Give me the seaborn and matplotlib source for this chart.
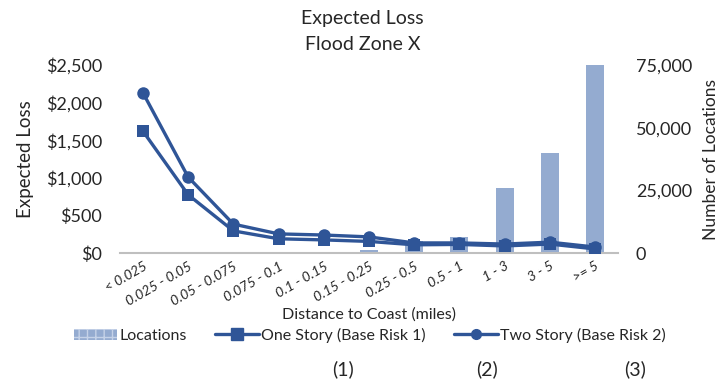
import numpy as np
import pandas as pd
import matplotlib.pyplot as plt
import seaborn as sns
from matplotlib.patches import Patch
from matplotlib.lines import Line2D
from matplotlib.ticker import FuncFormatter

# values
categories = ["< 0.025", "0.025 - 0.05", "0.05 - 0.075", "0.075 - 0.1", "0.1 - 0.15",
              "0.15 - 0.25", "0.25 - 0.5", "0.5 - 1", "1 - 3", "3 - 5", ">= 5"]
locations = [0, 0, 0, 0, 400, 1200, 5000, 6500, 26000, 40000, 75000]
one_story = [1620, 775, 295, 190, 175, 155, 110, 115, 95, 120, 55]
two_story = [2130, 1010, 385, 255, 240, 215, 135, 135, 120, 145, 80]

bar_col = "#94abd0"
line_col = "#2f5597"
txt_col = "#262626"

sns.set_style("white")
plt.rcParams["font.family"] = ["Lato", "DejaVu Sans"]
plt.rcParams["text.color"] = txt_col

df = pd.DataFrame({"cat": categories, "idx": np.arange(len(categories)),
                   "locations": locations, "one": one_story, "two": two_story})

fig = plt.figure(figsize=(7.25, 3.8), dpi=100)
ax = fig.add_axes([0.166, 0.334, 0.686, 0.495])   # bars, right axis
ax2 = ax.twinx()                                   # lines, left axis

sns.barplot(data=df, x="idx", y="locations", ax=ax, color=bar_col,
            width=0.4, saturation=1, edgecolor="none")
ax.yaxis.tick_right()
ax.yaxis.set_label_position("right")
ax.set_ylim(0, 75000)
ax.set_yticks([0, 25000, 50000, 75000])
ax.yaxis.set_major_formatter(FuncFormatter(lambda v, p: f"{int(v):,}"))
ax.set_ylabel("Number of Locations", fontsize=12.5, labelpad=8)

sns.lineplot(data=df, x="idx", y="one", ax=ax2, color=line_col, marker="s",
             markersize=9, linewidth=2.4, markeredgewidth=0)
sns.lineplot(data=df, x="idx", y="two", ax=ax2, color=line_col, marker="o",
             markersize=9, linewidth=2.4, markeredgewidth=0)
ax2.yaxis.tick_left()
ax2.yaxis.set_label_position("left")
ax2.set_ylim(0, 2500)
ax2.set_yticks([0, 500, 1000, 1500, 2000, 2500])
ax2.yaxis.set_major_formatter(FuncFormatter(lambda v, p: f"${int(v):,}"))
ax2.set_ylabel("Expected Loss", fontsize=13.5, labelpad=9)
ax2.set_xlabel("")

ax.set_xlim(-0.5, len(categories) - 0.5)
ax.set_xticks(df["idx"])
ax.set_xticklabels(categories, rotation=30, ha="right", rotation_mode="anchor",
                   style="italic")
ax.set_xlabel("Distance to Coast (miles)", fontsize=11.5, labelpad=0)

for a in (ax, ax2):
    for s in a.spines.values():
        s.set_visible(False)
    a.tick_params(length=0, labelsize=13, colors=txt_col, pad=13)
ax.tick_params(axis="x", labelsize=10, pad=5)
ax.spines["bottom"].set_visible(True)
ax.spines["bottom"].set_color("#bfbfbf")
ax.spines["bottom"].set_linewidth(1.5)

fig.text(0.5, 0.952, "Expected Loss", ha="center", va="center", fontsize=14)
fig.text(0.5, 0.882, "Flood Zone X", ha="center", va="center", fontsize=14)

handles = [
    Patch(facecolor=bar_col, edgecolor="#c5d2e8", hatch="++", linewidth=0),
    Line2D([], [], color=line_col, lw=2.4, marker="s", markersize=8),
    Line2D([], [], color=line_col, lw=2.4, marker="o", markersize=7),
]
labels = ["Locations", "One Story (Base Risk 1)", "Two Story (Base Risk 2)"]
fig.legend(handles, labels, loc="center", bbox_to_anchor=(0.51, 0.118), ncol=3,
           frameon=False, fontsize=11.5, handlelength=2.7, handletextpad=0.15,
           columnspacing=1.8, borderaxespad=0)

for x, t in [(0.473, "(1)"), (0.672, "(2)"), (0.876, "(3)")]:
    fig.text(x, 0.028, t, ha="center", va="center", fontsize=14)

fig.savefig("out.png", dpi=100)
